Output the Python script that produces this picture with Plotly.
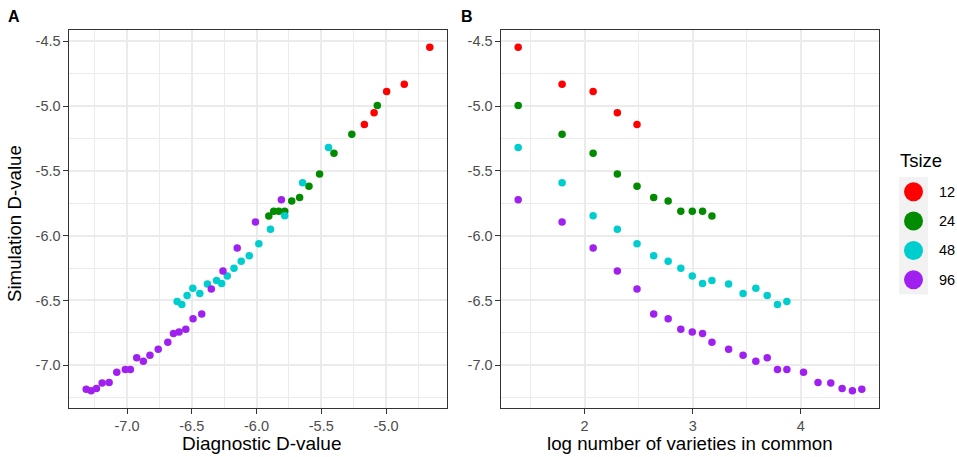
import plotly.graph_objects as go

# ---------------- data ----------------
tsize_labels = ["12", "24", "48", "96"]
tsize_colors = ["#FF0000", "#008B00", "#00CDCD", "#A020F0"]

logvar_12 = [1.386, 1.792, 2.079, 2.303, 2.485]
sim_12 = [-4.546, -4.831, -4.887, -5.051, -5.143]
diag_12 = [-4.662, -4.859, -4.995, -5.092, -5.167]

logvar_24 = [1.386, 1.792, 2.079, 2.303, 2.485, 2.639, 2.773, 2.890, 2.996, 3.091, 3.178]
sim_24 = [-4.995, -5.218, -5.364, -5.525, -5.618, -5.705, -5.733, -5.812, -5.812, -5.812, -5.848]
diag_24 = [-5.067, -5.264, -5.402, -5.513, -5.595, -5.667, -5.728, -5.782, -5.828, -5.867, -5.905]

logvar_48 = [1.386, 1.792, 2.079, 2.303, 2.485, 2.639, 2.773, 2.890, 2.996, 3.091, 3.178,
             3.332, 3.466, 3.584, 3.689, 3.784, 3.871]
sim_48 = [-5.320, -5.592, -5.846, -5.951, -6.062, -6.156, -6.197, -6.251, -6.312, -6.369, -6.346,
          -6.374, -6.446, -6.405, -6.462, -6.531, -6.508]
diag_48 = [-5.444, -5.644, -5.782, -5.892, -5.982, -6.056, -6.118, -6.174, -6.226, -6.269, -6.308,
           -6.379, -6.438, -6.492, -6.536, -6.577, -6.613]

logvar_96 = [1.386, 1.792, 2.079, 2.303, 2.485, 2.639, 2.773, 2.890, 2.996, 3.091, 3.178,
             3.332, 3.466, 3.584, 3.689, 3.784, 3.871, 4.025, 4.159, 4.277, 4.382, 4.477, 4.564]
sim_96 = [-5.723, -5.895, -6.095, -6.272, -6.412, -6.605, -6.641, -6.723, -6.743, -6.756, -6.823,
          -6.877, -6.923, -6.969, -6.943, -7.033, -7.033, -7.054, -7.133, -7.138, -7.179, -7.197, -7.185]
diag_96 = [-5.808, -6.008, -6.149, -6.259, -6.349, -6.423, -6.490, -6.546, -6.598, -6.641, -6.685,
           -6.759, -6.823, -6.874, -6.925, -6.974, -7.013, -7.079, -7.138, -7.192, -7.236, -7.277, -7.315]

diag_ticks = [-7.0, -6.5, -6.0, -5.5, -5.0]
diag_ticktext = ["-7.0", "-6.5", "-6.0", "-5.5", "-5.0"]
diag_minor = [-7.25, -6.75, -6.25, -5.75, -5.25, -4.75]
sim_ticks = [-7.0, -6.5, -6.0, -5.5, -5.0, -4.5]
sim_ticktext = ["-7.0", "-6.5", "-6.0", "-5.5", "-5.0", "-4.5"]
sim_minor = [-7.25, -6.75, -6.25, -5.75, -5.25, -4.75]
logvar_ticks = [2, 3, 4]
logvar_ticktext = ["2", "3", "4"]
logvar_minor = [1.5, 2.5, 3.5, 4.5]

series = [
    (logvar_12, sim_12, diag_12),
    (logvar_24, sim_24, diag_24),
    (logvar_48, sim_48, diag_48),
    (logvar_96, sim_96, diag_96),
]

# ---------------- figure ----------------
W, H = 957, 457
FONT = "Liberation Sans, Arial, Helvetica, sans-serif"


def fx(px):
    return px / W


def fy(py):
    return 1 - py / H


fig = go.Figure()
for lab, col, (lv, sim, diag) in zip(tsize_labels, tsize_colors, series):
    fig.add_trace(go.Scatter(x=diag, y=sim, mode="markers", name=lab,
                             marker=dict(color=col, size=7.5, line=dict(width=0)),
                             xaxis="x", yaxis="y", showlegend=False))
    fig.add_trace(go.Scatter(x=lv, y=sim, mode="markers", name=lab,
                             marker=dict(color=col, size=7.5, line=dict(width=0)),
                             xaxis="x2", yaxis="y2", showlegend=False))

axis_common = dict(
    showline=True, mirror=True, linecolor="#333333", linewidth=1.1,
    ticks="outside", ticklen=4.5, tickwidth=1.1, tickcolor="#333333",
    showgrid=True, gridcolor="#EBEBEB", gridwidth=1.6, zeroline=False,
    tickfont=dict(family=FONT, size=14.5, color="#4D4D4D"),
)
minor_common = dict(showgrid=True, gridcolor="#EBEBEB", gridwidth=0.8, ticks="")

ydom = [fy(408), fy(30)]
sim_range = [-7.33, -4.413]

fig.update_layout(
    width=W, height=H,
    margin=dict(l=0, r=0, t=0, b=0),
    paper_bgcolor="white", plot_bgcolor="white",
    font=dict(family=FONT, color="black"),
    xaxis=dict(domain=[fx(69), fx(447)], range=[-7.448, -4.529], anchor="y",
               tickvals=diag_ticks, ticktext=diag_ticktext,
               minor=dict(tickvals=diag_minor, **minor_common), **axis_common),
    yaxis=dict(domain=ydom, range=sim_range, anchor="x",
               tickvals=sim_ticks, ticktext=sim_ticktext,
               minor=dict(tickvals=sim_minor, **minor_common), **axis_common),
    xaxis2=dict(domain=[fx(501), fx(879)], range=[1.227, 4.723], anchor="y2",
                tickvals=logvar_ticks, ticktext=logvar_ticktext,
                minor=dict(tickvals=logvar_minor, **minor_common), **axis_common),
    yaxis2=dict(domain=ydom, range=sim_range, anchor="x2",
                tickvals=sim_ticks, ticktext=sim_ticktext,
                minor=dict(tickvals=sim_minor, **minor_common), **axis_common),
    showlegend=False,
)

ann = []
ann.append(dict(text="<b>A</b>", x=fx(6), y=fy(16), xref="paper", yref="paper",
                xanchor="left", yanchor="middle", showarrow=False,
                font=dict(family=FONT, size=16, color="black")))
ann.append(dict(text="<b>B</b>", x=fx(458.5), y=fy(16), xref="paper", yref="paper",
                xanchor="left", yanchor="middle", showarrow=False,
                font=dict(family=FONT, size=16, color="black")))
ann.append(dict(text="Diagnostic D-value", x=fx(261), y=fy(443), xref="paper", yref="paper",
                xanchor="center", yanchor="middle", showarrow=False,
                font=dict(family=FONT, size=19, color="black")))
ann.append(dict(text="log number of varieties in common", x=fx(690), y=fy(443),
                xref="paper", yref="paper", xanchor="center", yanchor="middle",
                showarrow=False, font=dict(family=FONT, size=18.7, color="black")))
ann.append(dict(text="Simulation D-value", x=fx(15), y=fy(224), xref="paper", yref="paper",
                xanchor="center", yanchor="middle", textangle=-90, showarrow=False,
                font=dict(family=FONT, size=18.7, color="black")))

# legend (manual, ggplot style)
ann.append(dict(text="Tsize", x=fx(898), y=fy(160), xref="paper", yref="paper",
                xanchor="left", yanchor="middle", showarrow=False,
                font=dict(family=FONT, size=18.5, color="black")))
shapes = [dict(type="rect", xref="paper", yref="paper",
               x0=fx(899), x1=fx(928), y0=fy(294.5), y1=fy(177),
               fillcolor="#F2F2F2", line=dict(width=0), layer="below")]
key_h = 29.375
for i, (lab, col) in enumerate(zip(tsize_labels, tsize_colors)):
    cy = 177 + key_h * (i + 0.5)
    cx = 913.5
    r = 9.5
    shapes.append(dict(type="circle", xref="paper", yref="paper",
                       x0=fx(cx - r), x1=fx(cx + r), y0=fy(cy + r), y1=fy(cy - r),
                       fillcolor=col, line=dict(width=0)))
    ann.append(dict(text=lab, x=fx(937), y=fy(cy), xref="paper", yref="paper",
                    xanchor="left", yanchor="middle", showarrow=False,
                    font=dict(family=FONT, size=14.5, color="black")))

fig.update_layout(annotations=ann, shapes=shapes)
fig.write_html("out.html",
               config={"displayModeBar": False},
               post_script="document.body.style.margin='0px';"
                           "document.body.style.overflow='hidden';")
